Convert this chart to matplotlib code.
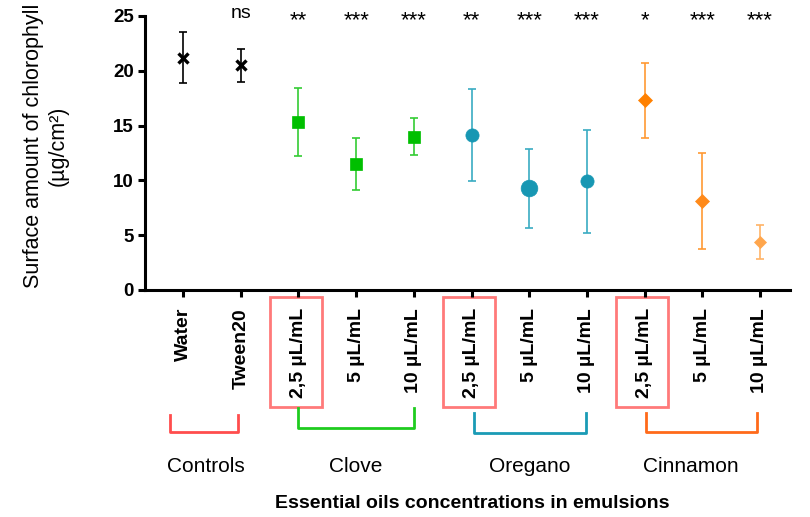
import matplotlib
matplotlib.use('Agg')
import matplotlib.pyplot as plt
from matplotlib.transforms import blended_transform_factory
from matplotlib.patches import Rectangle

plt.rcParams['font.family'] = ['Liberation Sans', 'DejaVu Sans']

# data
labels = ['Water', 'Tween20',
          '2,5 µL/mL', '5 µL/mL', '10 µL/mL',
          '2,5 µL/mL', '5 µL/mL', '10 µL/mL',
          '2,5 µL/mL', '5 µL/mL', '10 µL/mL']
means = [21.2, 20.5, 15.3, 11.5, 14.0, 14.1, 9.3, 9.9, 17.3, 8.1, 4.4]
sds = [2.3, 1.5, 3.1, 2.4, 1.7, 4.2, 3.6, 4.7, 3.4, 4.4, 1.55]
signif = ['', 'ns', '**', '***', '***', '**', '***', '***', '*', '***', '***']
groups = ['Controls', 'Clove', 'Oregano', 'Cinnamon']

marker_style = [('x', 7), ('x', 7), ('s', 9), ('s', 9), ('s', 9),
                ('o', 9.5), ('o', 12), ('o', 9.5), ('D', 7), ('D', 7), ('D', 6)]
point_colors = ['black', 'black', '#00bf00', '#00bf00', '#00bf00',
                '#1797b3', '#1797b3', '#1797b3', '#ff8000', '#ff8a1a', '#ffa64d']
bar_colors = ['black', 'black', '#33cc33', '#33cc33', '#33cc33',
              '#3aabc2', '#3aabc2', '#3aabc2', '#ff9933', '#ff9933', '#ffb366']
bracket_colors = ['#ff4d4d', '#1fcc1f', '#1a9bb5', '#ff6a1a']

W, H = 810, 517
fig = plt.figure(figsize=(W / 100, H / 100), dpi=100)
ax = fig.add_axes([145 / W, 1 - 290 / H, (790 - 145) / W, (290 - 16) / H])

x = list(range(len(labels)))
for i in x:
    m, ms = marker_style[i]
    ax.errorbar(i, means[i], yerr=sds[i], fmt='none', ecolor=bar_colors[i],
                elinewidth=1.2, capsize=3.2, capthick=1.2, zorder=2)
    ax.plot(i, means[i], marker=m, markersize=ms, color=point_colors[i],
            markeredgewidth=2.4 if m == 'x' else 0.5, linestyle='none', zorder=3)

ax.set_xlim(-0.66, 10.52)
ax.set_ylim(0, 25)
ax.set_yticks([0, 5, 10, 15, 20, 25])
ax.set_xticks(x)
ax.set_xticklabels(labels, rotation=90, fontweight='bold', fontsize=14)
for t in ax.get_yticklabels():
    t.set_fontweight('bold')
    t.set_fontsize(13.5)
for s in ['top', 'right']:
    ax.spines[s].set_visible(False)
for s in ['left', 'bottom']:
    ax.spines[s].set_linewidth(2.2)
ax.tick_params(axis='both', width=2.2, length=5, direction='out', pad=3)
ax.tick_params(axis='x', pad=8)

def fy(py):
    return 1 - py / H

fig.text(46 / W, fy(146), 'Surface amount of chlorophyll\n(µg/cm²)', rotation=90,
         ha='center', va='center', fontsize=15.5, multialignment='center')

trans = blended_transform_factory(ax.transData, fig.transFigure)

# significance marks
for i, s in enumerate(signif):
    if not s:
        continue
    if s == 'ns':
        ax.text(i, fy(13), s, transform=trans, ha='center', va='center',
                fontsize=14, clip_on=False)
    else:
        ax.text(i, fy(21), s, transform=trans, ha='center', va='center',
                fontsize=16, clip_on=False)

# red boxes around the 2,5 labels
for i in [2, 5, 8]:
    ax.add_patch(Rectangle((i - 0.5, fy(407)), 0.9, fy(297) - fy(407),
                           transform=trans, fill=False, edgecolor='#ff7a7a',
                           linewidth=2, clip_on=False))

# group brackets and names
bracket_y = [(415, 432), (408, 428), (413, 433), (413, 432)]
bracket_x = [(-0.22, 0.95), (2.0, 4.0), (5.05, 6.98), (8.02, 9.95)]
name_x = [0.4, 3.0, 6.0, 8.8]
for g in range(len(groups)):
    x0, x1 = bracket_x[g]
    ytop, ybot = bracket_y[g]
    ax.plot([x0, x0, x1, x1], [fy(ytop), fy(ybot), fy(ybot), fy(ytop)],
            transform=trans, color=bracket_colors[g], linewidth=2, clip_on=False)
    ax.text(name_x[g], fy(466), groups[g], transform=trans, ha='center',
            va='center', fontsize=15)

fig.text(472 / W, fy(503), 'Essential oils concentrations in emulsions',
         ha='center', va='center', fontsize=14, fontweight='bold')

fig.savefig('out.png', dpi=100)
